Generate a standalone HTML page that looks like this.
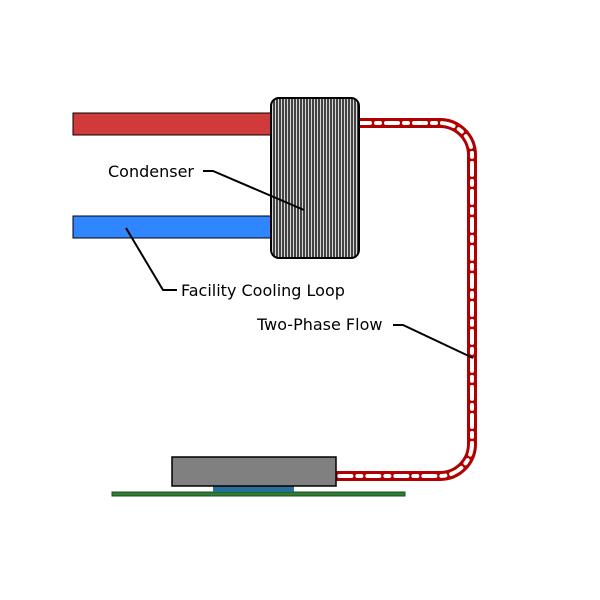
<!DOCTYPE html>
<html><head><style>body{margin:0;background:#fff}svg{display:block}</style></head><body>
<svg width="600" height="600" viewBox="0 0 600 600" xmlns="http://www.w3.org/2000/svg">
<defs>
<pattern id="fins" width="3" height="10" patternUnits="userSpaceOnUse">
<rect width="3" height="10" fill="#d8d8d8"/><rect width="2" height="10" fill="#444"/>
</pattern>
</defs>
<rect x="73" y="113" width="199" height="22" fill="#d03a3a" stroke="#000" stroke-width="1"/>
<rect x="73" y="216" width="199" height="22" fill="#2f86ff" stroke="#000" stroke-width="1"/>
<path d="M358,123 H440 A32,32 0 0 1 472,155 V444 A32,32 0 0 1 440,476 H335" fill="none" stroke="#b00000" stroke-width="10"/>
<path d="M358,123 H440 A32,32 0 0 1 472,155 V444 A32,32 0 0 1 440,476 H335" fill="none" stroke="#fff" stroke-width="4" stroke-linecap="round" stroke-dasharray="12,6,4,6"/>
<rect x="271" y="98" width="88" height="160" rx="8" fill="url(#fins)" stroke="#000" stroke-width="2"/>
<rect x="112" y="492" width="293" height="4" fill="#2e7d32" stroke="#1b4d1e" stroke-width="1"/>
<rect x="213" y="486" width="81" height="6" fill="#2a6f9a"/>
<g stroke="#e02020" stroke-width="1">
<path d="M217,486 l2,-5 M223,486 l2,-5 M229,486 l2,-5 M235,486 l2,-5 M241,486 l2,-5 M247,486 l2,-5 M253,486 l2,-5 M259,486 l2,-5 M265,486 l2,-5 M271,486 l2,-5 M277,486 l2,-5 M283,486 l2,-5 M289,486 l2,-5"/>
</g>
<rect x="172" y="457" width="164" height="29" fill="#808080" stroke="#000" stroke-width="1.5"/>
<g font-family="DejaVu Sans, sans-serif" font-size="16" fill="#000">
<text x="108" y="177">Condenser</text>
<text x="181" y="296">Facility Cooling Loop</text>
<text x="257" y="330">Two-Phase Flow</text>
</g>
<g fill="none" stroke="#000" stroke-width="2">
<path d="M203,171 H213 L304,210"/>
<path d="M126,228 L163,290 H177"/>
<path d="M393,325 H403 L473,358"/>
</g>
</svg>
</body></html>
